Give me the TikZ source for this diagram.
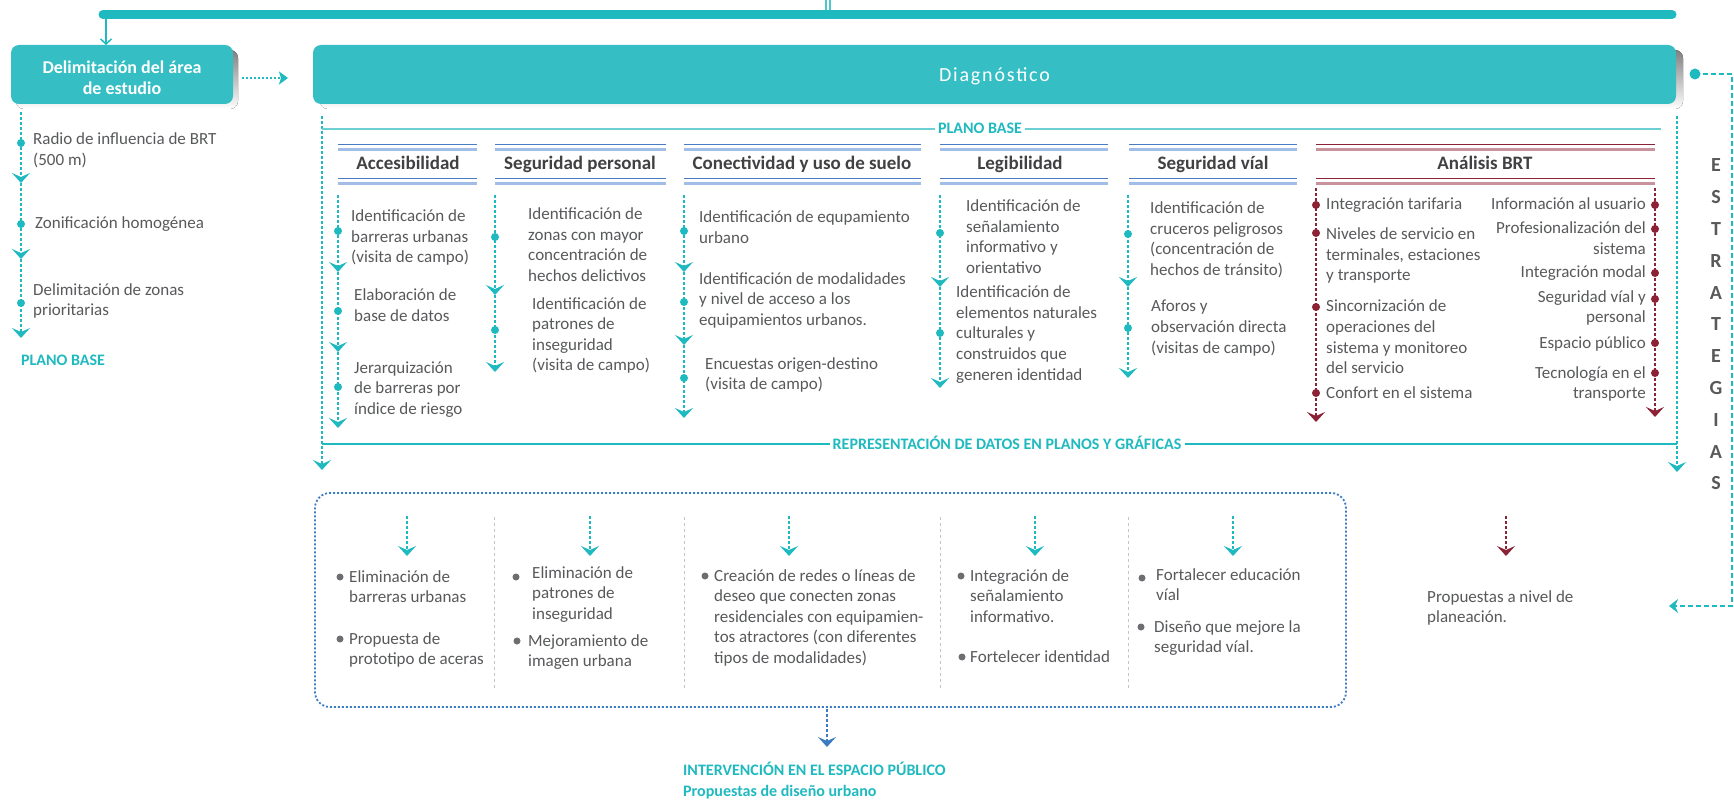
\documentclass[tikz,border=0pt]{standalone}
\usepackage{fontspec}
\setmainfont{Carlito}
\usetikzlibrary{arrows.meta}
\definecolor{barteal}{HTML}{1FBAC0}
\definecolor{boxteal}{HTML}{35BEC4}
\definecolor{shade}{HTML}{E3E6E9}
\definecolor{tgray}{HTML}{58595B}
\definecolor{hgray}{HTML}{414042}
\definecolor{brt}{HTML}{8C2236}
\definecolor{brtlight}{HTML}{C9939D}
\definecolor{lteal}{HTML}{6CCFD4}
\definecolor{dblue}{HTML}{4A7CC4}
\definecolor{lblue}{HTML}{A3BEE6}
\definecolor{boxblue}{HTML}{3D7CC0}
\definecolor{sepgray}{HTML}{C4C4C4}
\definecolor{bulgray}{HTML}{6D6E71}
\newcommand{\mlL}[1]{\begin{tabular}[t]{@{}l@{}}#1\end{tabular}}
\newcommand{\mlR}[1]{\begin{tabular}[t]{@{}r@{}}#1\end{tabular}}
\begin{document}
\begin{tikzpicture}[x=1pt,y=-1pt,
 txt/.style={font=\fontsize{17}{20.5}\selectfont, text=tgray, anchor=base west, inner sep=0pt},
 txtr/.style={font=\fontsize{17}{20.5}\selectfont, text=tgray, anchor=base east, inner sep=0pt},
 hdr/.style={font=\bfseries\fontsize{19}{22}\selectfont, text=hgray, anchor=base, inner sep=0pt},
 lbl/.style={font=\bfseries\fontsize{16}{21}\selectfont, text=barteal, inner sep=0pt},
 dotln/.style={line width=2.4pt, dash pattern=on 3pt off 2pt},
 tarr/.style={dotln, barteal, -{Stealth[length=10pt,width=18pt,inset=4pt]}},
 rarr/.style={dotln, brt, -{Stealth[length=10pt,width=18pt,inset=4pt]}},
 barr/.style={dotln, boxblue, -{Stealth[length=10pt,width=18pt,inset=4pt]}},
 tdot/.style={circle, fill=barteal, inner sep=0pt, minimum size=8pt},
 rdot/.style={circle, fill=brt, inner sep=0pt, minimum size=8pt},
 bul/.style={circle, fill=bulgray, inner sep=0pt, minimum size=7pt},
 hline/.style={line width=1.3pt},
 hlinel/.style={line width=2.2pt},
]
\fill[white] (0,0) rectangle (1734,802);
\useasboundingbox (0,0) rectangle (1734,802);

% top bar
\draw[barteal!80, line width=1.6pt] (826,0) -- (826,10);
\draw[barteal!80, line width=1.6pt] (830,0) -- (830,10);
\coordinate (barL) at (103,14.5);
\coordinate (barR) at (1672,14.5);
\draw[barteal, line width=9pt, line cap=round] (barL) -- (barR);

% boxes
\fill[shade, rounded corners=8pt] (16,50) rectangle (238,109);
\node[fill=boxteal, rounded corners=8pt, minimum width=222pt, minimum height=59pt, inner sep=0pt] (delim) at (122,74.5) {};
\node[font=\bfseries\fontsize{18}{21}\selectfont, text=white, align=center, inner sep=0pt] (delimt) at (122,78) {Delimitación del área\\de estudio};
\fill[shade, rounded corners=8pt] (320,50) rectangle (1683,109);
\node[fill=boxteal, rounded corners=8pt, minimum width=1363pt, minimum height=59pt, inner sep=0pt] (diag) at (994.5,74.5) {};
\node[font=\fontsize{20}{24}\selectfont\addfontfeature{LetterSpace=9}, text=white, inner sep=0pt] (diagt) at (994.5,76) {Diagnóstico};

% bar arrow to delim
\coordinate (ba1) at (106,18);
\coordinate (ba2) at (106,45);
\draw[barteal, line width=1.5pt, -{Straight Barb[length=5pt,width=11pt]}] (ba1) -- (ba2);

% dotted arrow delim -> diag
\coordinate (da1) at (242,78);
\coordinate (da2) at (288,78);
\draw[barteal, line width=2pt, dash pattern=on 2pt off 2pt, -{Stealth[length=9pt,width=13pt,inset=2pt]}] (da1) -- (da2);

% right dashed feedback
\node[circle, fill=barteal, inner sep=0pt, minimum size=11pt] (rdt) at (1695,74) {};
\coordinate (rc1) at (1732,74);
\coordinate (rc2) at (1732,606);
\coordinate (rend) at (1669,606);
\draw[barteal, line width=1.8pt, dash pattern=on 5pt off 3pt, -{Stealth[length=9pt,width=14pt,inset=3pt]}] (rdt.center) -- (rc1) -- (rc2) -- (rend);

% ESTRATEGIAS
\node[font=\bfseries\fontsize{20}{31.8}\selectfont, text=tgray, anchor=base, inner sep=0pt] (estr) at (1716,172) {\begin{tabular}[t]{@{}c@{}}E\\S\\T\\R\\A\\T\\E\\G\\I\\A\\S\end{tabular}};

% left column
\coordinate (l0) at (21,112);
\coordinate (l1) at (21,183);
\coordinate (l2) at (21,259);
\coordinate (l3) at (21,338);
\draw[tarr] (l0) -- (l1);
\draw[tarr] (l1) -- (l2);
\draw[tarr] (l2) -- (l3);
\node[tdot] (ld1) at (21,143) {};
\node[tdot] (ld2) at (21,224) {};
\node[tdot] (ld3) at (21,303) {};
\node[txt] (lt1) at (33,145) {\mlL{Radio de influencia de BRT\\(500 m)}};
\node[txt] (lt2) at (35,229) {Zonificación homogénea};
\node[txt] (lt3) at (33,295) {\mlL{Delimitación de zonas\\prioritarias}};
\node[lbl, anchor=base west] (lpb) at (21,365) {PLANO BASE};

% diag side lines
\coordinate (dl0) at (322,116);
\coordinate (dl1) at (322,470);
\coordinate (dr0) at (1677,116);
\coordinate (dr1) at (1677,472);
\draw[tarr] (dl0) -- (dl1);
\draw[tarr] (dr0) -- (dr1);

% PLANO BASE line
\node[lbl, anchor=base, inner xsep=3pt] (pb) at (980,134) {PLANO BASE};
\coordinate (pbL) at (322,129);
\coordinate (pbR) at (1661,129);
\draw[lteal, line width=1.8pt] (pbL) -- (pb.west |- pbL);
\draw[lteal, line width=1.8pt] (pb.east |- pbR) -- (pbR);

% Representacion line
\node[lbl, anchor=base, inner xsep=3pt] (rep) at (1007,449) {REPRESENTACIÓN DE DATOS EN PLANOS Y GRÁFICAS};
\coordinate (repL) at (322,444);
\coordinate (repR) at (1677,444);
\draw[barteal, line width=1.5pt] (repL) -- (rep.west |- repL);
\draw[barteal, line width=1.5pt] (rep.east |- repR) -- (repR);

% header lines
\foreach \a/\b in {338/477, 495/666, 684/921, 940/1108, 1129/1297}{
  \draw[dblue, hline] (\a,144.5) -- (\b,144.5);
  \draw[lblue, hlinel] (\a,149.5) -- (\b,149.5);
  \draw[dblue, hline] (\a,178.5) -- (\b,178.5);
  \draw[lblue, hlinel] (\a,183.5) -- (\b,183.5);
}
\draw[brt, hline] (1316,144.5) -- (1655,144.5);
\draw[brtlight, hlinel] (1316,149.5) -- (1655,149.5);
\draw[brt, hline] (1316,178.5) -- (1655,178.5);
\draw[brtlight, hlinel] (1316,183.5) -- (1655,183.5);

\node[hdr] (h1) at (408,170) {Accesibilidad};
\node[hdr] (h2) at (580,170) {Seguridad personal};
\node[hdr] (h3) at (802,170) {Conectividad y uso de suelo};
\node[hdr] (h4) at (1020,170) {Legibilidad};
\node[hdr] (h5) at (1213,170) {Seguridad víal};
\node[hdr] (h6) at (1485,170) {Análisis BRT};

% column 1
\coordinate (a0) at (338,195);
\coordinate (a1) at (338,272);
\coordinate (a2) at (338,352);
\coordinate (a3) at (338,428);
\draw[tarr] (a0) -- (a1);
\draw[tarr] (a1) -- (a2);
\draw[tarr] (a2) -- (a3);
\node[tdot] (ad1) at (338,231) {};
\node[tdot] (ad2) at (338,311) {};
\node[tdot] (ad3) at (338,387) {};
\node[txt] (at1) at (351,222) {\mlL{Identificación de\\barreras urbanas\\(visita de campo)}};
\node[txt] (at2) at (354,301) {\mlL{Elaboración de\\base de datos}};
\node[txt] (at3) at (354,373) {\mlL{Jerarquización\\de barreras por\\índice de riesgo}};

% column 2
\coordinate (b0) at (495,195);
\coordinate (b1) at (495,295);
\coordinate (b2) at (495,372);
\draw[tarr] (b0) -- (b1);
\draw[tarr] (b1) -- (b2);
\node[tdot] (bd1) at (495,237) {};
\node[tdot] (bd2) at (495,330) {};
\node[txt] (bt1) at (528,220) {\mlL{Identificación de\\zonas con mayor\\concentración de\\hechos delictivos}};
\node[txt] (bt2) at (532,309) {\mlL{Identificación de\\patrones de\\inseguridad\\(visita de campo)}};

% column 3
\coordinate (c0) at (684,195);
\coordinate (c1) at (684,272);
\coordinate (c2) at (684,345);
\coordinate (c3) at (684,418);
\draw[tarr] (c0) -- (c1);
\draw[tarr] (c1) -- (c2);
\draw[tarr] (c2) -- (c3);
\node[tdot] (cd1) at (684,231) {};
\node[tdot] (cd2) at (684,302) {};
\node[tdot] (cd3) at (684,378) {};
\node[txt] (ct1) at (699,223) {\mlL{Identificación de equpamiento\\urbano}};
\node[txt] (ct2) at (699,284) {\mlL{Identificación de modalidades\\y nivel de acceso a los\\equipamientos urbanos.}};
\node[txt] (ct3) at (705,369) {\mlL{Encuestas origen-destino\\(visita de campo)}};

% column 4
\coordinate (d0) at (940,195);
\coordinate (d1) at (940,287);
\coordinate (d2) at (940,388);
\draw[tarr] (d0) -- (d1);
\draw[tarr] (d1) -- (d2);
\node[tdot] (dd1) at (940,233) {};
\node[tdot] (dd2) at (940,333) {};
\node[txt] (dt1) at (966,212) {\mlL{Identificación de\\señalamiento\\informativo y\\orientativo}};
\node[txt] (dt2) at (956,298) {\mlL{Identificación de\\elementos naturales\\culturales y\\construidos que\\generen identidad}};

% column 5
\coordinate (e0) at (1128,195);
\coordinate (e1) at (1128,287);
\coordinate (e2) at (1128,378);
\draw[tarr] (e0) -- (e1);
\draw[tarr] (e1) -- (e2);
\node[tdot] (ed1) at (1128,234) {};
\node[tdot] (ed2) at (1128,328) {};
\node[txt] (et1) at (1150,214) {\mlL{Identificación de\\cruceros peligrosos\\(concentración de\\hechos de tránsito)}};
\node[txt] (et2) at (1151,312) {\mlL{Aforos y\\observación directa\\(visitas de campo)}};

% column 6 (BRT)
\coordinate (f0) at (1316,188);
\coordinate (f1) at (1316,422);
\coordinate (g0) at (1655,188);
\coordinate (g1) at (1655,417);
\draw[rarr] (f0) -- (f1);
\draw[rarr] (g0) -- (g1);
\node[rdot] (fd1) at (1316,205) {};
\node[rdot] (fd2) at (1316,233) {};
\node[rdot] (fd3) at (1316,307) {};
\node[rdot] (fd4) at (1316,393) {};
\node[txt] (ft1) at (1326,210) {Integración tarifaria};
\node[txt] (ft2) at (1326,240) {\mlL{Niveles de servicio en\\terminales, estaciones\\y transporte}};
\node[txt] (ft3) at (1326,312) {\mlL{Sincornización de\\operaciones del\\sistema y monitoreo\\del servicio}};
\node[txt] (ft4) at (1326,398) {Confort en el sistema};
\node[rdot] (gd1) at (1655,205) {};
\node[rdot] (gd2) at (1655,229) {};
\node[rdot] (gd3) at (1655,273) {};
\node[rdot] (gd4) at (1655,299) {};
\node[rdot] (gd5) at (1655,343) {};
\node[rdot] (gd6) at (1655,373) {};
\node[txtr] (gt1) at (1646,210) {Información al usuario};
\node[txtr] (gt2) at (1646,234) {\mlR{Profesionalización del\\sistema}};
\node[txtr] (gt3) at (1646,278) {Integración modal};
\node[txtr] (gt4) at (1646,302) {\mlR{Seguridad víal y\\personal}};
\node[txtr] (gt5) at (1646,348) {Espacio público};
\node[txtr] (gt6) at (1646,378) {\mlR{Tecnología en el\\transporte}};

% bottom box
\node[draw=boxblue, line width=1.8pt, dash pattern=on 2pt off 2pt, rounded corners=15pt, minimum width=1031pt, minimum height=214pt, inner sep=0pt] (ibox) at (830.5,600) {};
\foreach \x in {494,684,940,1128}{
  \draw[sepgray, line width=1pt, dash pattern=on 3pt off 3pt] (\x,517) -- (\x,688);
}
\foreach \n/\x in {p1/407,p2/590,p3/789,p4/1035,p5/1233}{
  \coordinate (\n s) at (\x,516);
  \coordinate (\n e) at (\x,556);
  \draw[tarr] (\n s) -- (\n e);
}
\coordinate (p6s) at (1506,516);
\coordinate (p6e) at (1506,556);
\draw[rarr] (p6s) -- (p6e);

\node[bul] (q1a) at (340,577) {};
\node[txt] (r1a) at (349,582) {\mlL{Eliminación de\\barreras urbanas}};
\node[bul] (q1b) at (340,639) {};
\node[txt] (r1b) at (349,644) {\mlL{Propuesta de\\prototipo de aceras}};
\node[bul] (q2a) at (516,577) {};
\node[txt] (r2a) at (532,578) {\mlL{Eliminación de\\patrones de\\inseguridad}};
\node[bul] (q2b) at (517,641) {};
\node[txt] (r2b) at (528,646) {\mlL{Mejoramiento de\\imagen urbana}};
\node[bul] (q3a) at (705,576) {};
\node[txt] (r3a) at (714,581) {\mlL{Creación de redes o líneas de\\deseo que conecten zonas\\residenciales con equipamien-\\tos atractores (con diferentes\\tipos de modalidades)}};
\node[bul] (q4a) at (961,576) {};
\node[txt] (r4a) at (970,581) {\mlL{Integración de\\señalamiento\\informativo.}};
\node[bul] (q4b) at (962,657) {};
\node[txt] (r4b) at (970,662) {Fortelecer identidad};
\node[bul] (q5a) at (1142,578) {};
\node[txt] (r5a) at (1156,580) {\mlL{Fortalecer educación\\víal}};
\node[bul] (q5b) at (1141,627) {};
\node[txt] (r5b) at (1154,632) {\mlL{Diseño que mejore la\\seguridad víal.}};
\node[txt] (prop) at (1427,602) {\mlL{Propuestas a nivel de\\planeación.}};

% bottom arrow
\coordinate (ib1) at (827,709);
\coordinate (ib2) at (827,747);
\draw[barr] (ib1) -- (ib2);
\node[font=\bfseries\fontsize{16}{21}\selectfont, text=barteal, inner sep=0pt, anchor=base west] (interv) at (683,775) {\begin{tabular}[t]{@{}l@{}}INTERVENCIÓN EN EL ESPACIO PÚBLICO\\Propuestas de diseño urbano\end{tabular}};
\end{tikzpicture}
\end{document}
